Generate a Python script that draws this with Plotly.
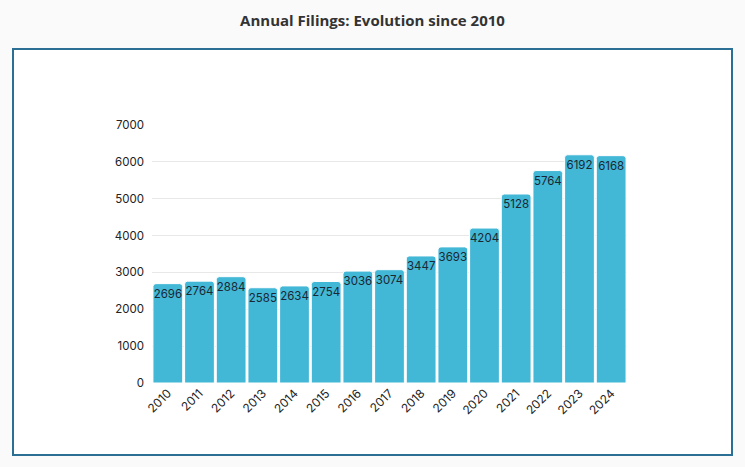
import plotly.graph_objects as go

years = ["2010", "2011", "2012", "2013", "2014", "2015", "2016", "2017",
         "2018", "2019", "2020", "2021", "2022", "2023", "2024"]
filings = [2696, 2764, 2884, 2585, 2634, 2754, 3036, 3074,
           3447, 3693, 4204, 5128, 5764, 6192, 6168]
y_ticks = [0, 1000, 2000, 3000, 4000, 5000, 6000, 7000]

W, H = 745, 467
L, R, T, B = 152, 118, 125, 84
pw, ph = W - L - R, H - T - B

def px_x(x):
    return (x - L) / pw

def px_y(y):
    return (H - B - y) / ph

fig = go.Figure(go.Bar(
    x=years, y=filings,
    text=[str(v) for v in filings],
    textposition="inside",
    insidetextanchor="end",
    textangle=0,
    textfont=dict(family="Inter, sans-serif", size=11.5, color="#1b2733"),
    marker=dict(color="#42b7d6", line=dict(color="#ffffff", width=1), cornerradius=3),
    hoverinfo="skip",
))

fig.update_layout(
    width=W, height=H,
    paper_bgcolor="#fafafa",
    plot_bgcolor="#ffffff",
    margin=dict(l=L, r=R, t=T, b=B, autoexpand=False),
    bargap=0.06,
    showlegend=False,
    title=dict(text="<b>Annual Filings: Evolution since 2010</b>",
               x=0.5, xref="container", xanchor="center",
               y=1 - 21 / H, yref="container", yanchor="middle",
               font=dict(family="Open Sans, sans-serif", size=15, color="#333333")),
    xaxis=dict(tickangle=-45, tickfont=dict(family="Inter, sans-serif", size=12, color="#222222"),
               showgrid=False, showline=False, ticks="", fixedrange=True),
    yaxis=dict(range=[0, 7000], tickvals=y_ticks,
               tickfont=dict(family="Inter, sans-serif", size=11.5, color="#222222"),
               gridcolor="#e8e8e8", gridwidth=1, zeroline=False, showline=False,
               ticks="", ticklabelstandoff=7, fixedrange=True),
    shapes=[dict(type="rect", xref="paper", yref="paper",
                 x0=px_x(13), x1=px_x(732), y0=px_y(455), y1=px_y(49),
                 line=dict(color="#2b6f95", width=2), fillcolor="#ffffff", layer="below")],
    uniformtext=dict(minsize=11, mode="show"),
)

fig.write_html("out.html", config={"displayModeBar": False},
               post_script="document.body.style.margin='0';document.body.style.background='#fafafa';")
